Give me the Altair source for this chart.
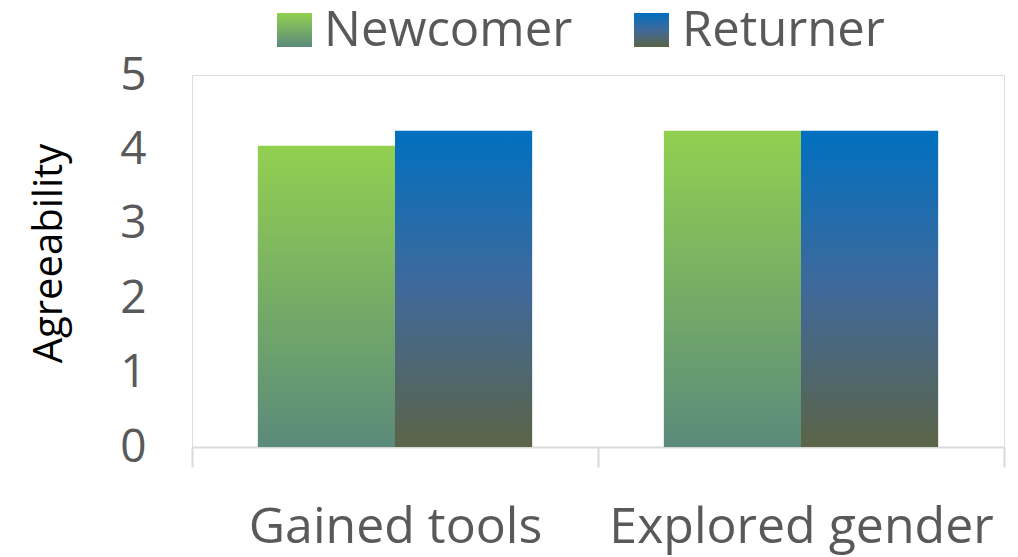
import altair as alt
import pandas as pd

categories = ["Gained tools", "Explored gender"]
series = ["Newcomer", "Returner"]
newcomer = [4.05, 4.25]
returner = [4.25, 4.25]

FONT = "Open Sans"
TXT = "#595959"

df = pd.DataFrame({
    "category": categories * 2,
    "series": [series[0]] * 2 + [series[1]] * 2,
    "value": newcomer + returner,
})

grad_new = {"gradient": "linear", "x1": 0, "y1": 0, "x2": 0, "y2": 1,
            "stops": [{"offset": 0, "color": "#92D050"},
                      {"offset": 1, "color": "#5B8A7B"}]}
grad_ret = {"gradient": "linear", "x1": 0, "y1": 0, "x2": 0, "y2": 1,
            "stops": [{"offset": 0, "color": "#0070C0"},
                      {"offset": 0.5, "color": "#40699A"},
                      {"offset": 1, "color": "#5B6447"}]}

x_enc = alt.X("category:N", sort=categories, title=None,
              scale=alt.Scale(paddingInner=0, paddingOuter=0),
              axis=alt.Axis(labelAngle=0, labelFontSize=50, labelFont=FONT,
                            labelColor=TXT, labelLimit=0,
                            domainColor="#D9D9D9", domainWidth=2,
                            tickColor="#D9D9D9", tickWidth=2, tickSize=20,
                            tickBand="extent", labelPadding=35))
y_enc = alt.Y("value:Q", title="Agreeability",
              scale=alt.Scale(domain=[0, 5]),
              axis=alt.Axis(values=[0, 1, 2, 3, 4, 5], grid=False, domain=False,
                            ticks=False, labelFontSize=46, labelFont=FONT,
                            labelColor=TXT, labelPadding=46,
                            titleFontSize=40, titleFont=FONT, titleFontWeight="normal",
                            titleColor="#000000", titlePadding=50, titleY=178))
xoff = alt.XOffset("series:N", sort=series,
                   scale=alt.Scale(domain=series, paddingInner=0, paddingOuter=0.48))

bars_new = alt.Chart(df).transform_filter(alt.datum.series == series[0]).mark_bar(
    color=grad_new).encode(x=x_enc, y=y_enc, xOffset=xoff)
bars_ret = alt.Chart(df).transform_filter(alt.datum.series == series[1]).mark_bar(
    color=grad_ret).encode(x=x_enc, y=y_enc, xOffset=xoff)

leg_df = pd.DataFrame({"series": series})
leg_sym_new = alt.Chart(leg_df).transform_filter(alt.datum.series == series[0]).mark_rect(
    color=grad_new).encode(x=alt.value(85), x2=alt.value(120), y=alt.value(-62), y2=alt.value(-28))
leg_sym_ret = alt.Chart(leg_df).transform_filter(alt.datum.series == series[1]).mark_rect(
    color=grad_ret).encode(x=alt.value(442), x2=alt.value(477), y=alt.value(-62), y2=alt.value(-28))
leg_txt_new = alt.Chart(leg_df).transform_filter(alt.datum.series == series[0]).mark_text(
    align="left", baseline="middle", fontSize=49, font=FONT, color=TXT).encode(
    x=alt.value(132), y=alt.value(-44), text="series:N")
leg_txt_ret = alt.Chart(leg_df).transform_filter(alt.datum.series == series[1]).mark_text(
    align="left", baseline="middle", fontSize=49, font=FONT, color=TXT).encode(
    x=alt.value(490), y=alt.value(-44), text="series:N")

chart = alt.layer(bars_new, bars_ret, leg_sym_new, leg_sym_ret, leg_txt_new, leg_txt_ret).properties(
    width=812, height=372,
    autosize=alt.AutoSizeParams(type="none"),
    padding={"left": 192, "top": 75, "right": 14, "bottom": 110},
).configure_view(strokeWidth=0, stroke="transparent").configure(background="white")

chart.save("out.html", embed_options={"renderer": "svg", "actions": False})
